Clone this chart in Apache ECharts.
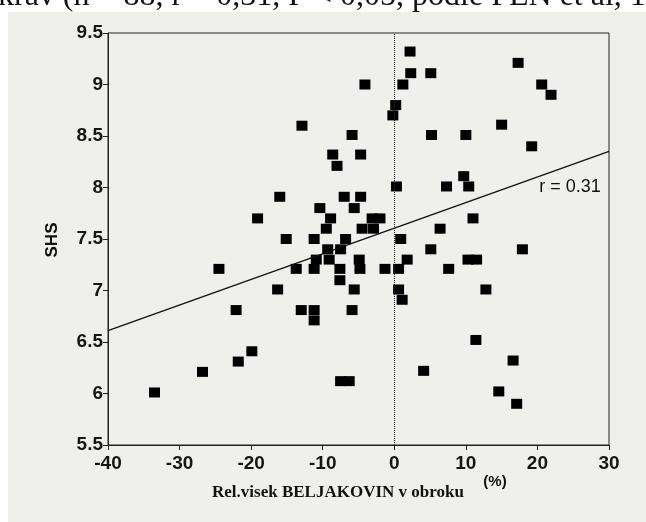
<!DOCTYPE html>
<html>
<head>
<meta charset="utf-8">
<script src="https://cdn.jsdelivr.net/npm/echarts@6/dist/echarts.min.js"></script>
<style>
  html, body { margin: 0; padding: 0; background: #fff; }
  #chart { width: 646px; height: 522px; }
</style>
</head>
<body>
<div id="chart"></div>
<script>
// relative protein intake (%) vs SHS
const relProtein = [
  2.2, 2.3, 5.1, -4.1, 1.2, 0.2, -0.2, -12.9, -5.9, 5.2,
  10.0, -8.6, -4.7, -8.0, 9.7, 0.3, 7.3, 10.4, -7.0, -4.7,
  -10.4, -5.6, -8.9, -3.1, -2.0, 11.0, -9.5, -4.5, -2.9, 6.4,
  17.3, 20.6, 21.9, 15.0, 19.2, -16.0, -19.1, -15.1, -24.5, -13.7,
  -16.3, -22.1, -13.0, -19.9, -21.8, -26.8, -33.5, -11.2, -6.8, 0.9,
  -9.3, -7.5, 5.1, -10.9, -9.1, -4.9, 1.8, 10.3, 11.5, -11.2,
  -7.6, -4.8, -1.3, 0.6, 7.6, -7.6, -5.6, 0.6, 12.8, 1.1,
  -11.2, -5.9, -11.2, 11.4, 4.1, -7.5, -6.3, 14.6, 17.9, 16.6,
  17.1
];
const shs = [
  9.32, 9.11, 9.11, 9.0, 9.0, 8.8, 8.7, 8.6, 8.51, 8.51,
  8.51, 8.32, 8.32, 8.21, 8.11, 8.01, 8.01, 8.01, 7.91, 7.91,
  7.80, 7.80, 7.70, 7.70, 7.70, 7.70, 7.60, 7.60, 7.60, 7.60,
  9.21, 9.0, 8.9, 8.61, 8.40, 7.91, 7.70, 7.50, 7.21, 7.21,
  7.01, 6.81, 6.81, 6.41, 6.31, 6.21, 6.01, 7.50, 7.50, 7.50,
  7.40, 7.40, 7.40, 7.30, 7.30, 7.30, 7.30, 7.30, 7.30, 7.21,
  7.21, 7.21, 7.21, 7.21, 7.21, 7.10, 7.01, 7.01, 7.01, 6.91,
  6.81, 6.81, 6.71, 6.52, 6.22, 6.12, 6.12, 6.02, 7.40, 6.32,
  5.90
];

// regression line end points
const fitX = [-40, 30];
const fitY = [6.61, 8.35];

const xTicks = [-40, -30, -20, -10, 0, 10, 20, 30];
const yTicks = [5.5, 6, 6.5, 7, 7.5, 8, 8.5, 9, 9.5];

const points = relProtein.map((x, i) => [x, shs[i]]);
const fitLine = fitX.map((x, i) => [x, fitY[i]]);

const chart = echarts.init(document.getElementById('chart'));

const tickFont = {
  color: '#151515',
  fontSize: 19,
  fontWeight: 'bold',
  fontFamily: '"Liberation Sans", Arial, sans-serif',
};

const option = {
  backgroundColor: '#fff',
  animation: false,
  grid: {
    left: 108,
    right: 37,
    top: 33,
    bottom: 77,
    show: true,
    borderColor: '#222',
    borderWidth: 1,
    backgroundColor: 'transparent',
  },
  xAxis: {
    type: 'value',
    min: xTicks[0],
    max: xTicks[xTicks.length - 1],
    interval: 10,
    axisLine: { onZero: false, lineStyle: { color: '#222', width: 1 } },
    axisTick: { inside: false, length: 5, lineStyle: { color: '#222' } },
    axisLabel: { ...tickFont, margin: 9 },
    splitLine: { show: false },
  },
  yAxis: {
    type: 'value',
    min: yTicks[0],
    max: yTicks[yTicks.length - 1],
    interval: 0.5,
    axisLine: { show: true, onZero: false, lineStyle: { color: '#222', width: 1 } },
    axisTick: { show: true, inside: false, length: 5, lineStyle: { color: '#222' } },
    axisLabel: { ...tickFont, margin: 5 },
    splitLine: { show: false },
  },
  graphic: [
    {
      type: 'rect',
      z: -10,
      shape: { x: 8, y: 12, width: 646, height: 522 },
      style: { fill: '#efefec' },
    },
    {
      type: 'text',
      left: -2,
      top: -19,
      style: {
        text: 'krav (n = 88, r = 0,31, P < 0,05, podle FEN et al, 1',
        font: '32px "Liberation Serif", "Times New Roman", serif',
        fill: '#111',
      },
    },
    {
      type: 'text',
      x: 52,
      y: 240,
      rotation: Math.PI / 2,
      style: {
        text: 'SHS',
        font: 'bold 17px "Liberation Sans", Arial, sans-serif',
        fill: '#111',
        align: 'center',
        verticalAlign: 'middle',
      },
    },
    {
      type: 'text',
      x: 338,
      y: 493,
      style: {
        text: 'Rel.visek BELJAKOVIN v obroku',
        font: 'bold 17px "Liberation Serif", "Times New Roman", serif',
        fill: '#111',
        align: 'center',
        verticalAlign: 'middle',
      },
    },
    {
      type: 'text',
      x: 495,
      y: 482,
      style: {
        text: '(%)',
        font: 'bold 15px "Liberation Sans", Arial, sans-serif',
        fill: '#111',
        align: 'center',
        verticalAlign: 'middle',
      },
    },
    {
      type: 'text',
      x: 570,
      y: 187,
      style: {
        text: 'r = 0.31',
        font: '18px "Liberation Sans", Arial, sans-serif',
        fill: '#111',
        align: 'center',
        verticalAlign: 'middle',
      },
    },
  ],
  series: [
    {
      name: 'fit',
      type: 'line',
      data: fitLine,
      symbol: 'none',
      lineStyle: { color: '#111', width: 1.3 },
      silent: true,
      markLine: {
        silent: true,
        symbol: 'none',
        label: { show: false },
        lineStyle: { color: '#222', type: 'dotted', width: 1 },
        data: [{ xAxis: 0 }],
      },
    },
    {
      name: 'SHS',
      type: 'scatter',
      data: points,
      symbol: 'rect',
      symbolSize: [11, 10],
      itemStyle: { color: '#000', opacity: 1 },
    },
  ],
};

chart.setOption(option);
</script>
</body>
</html>
